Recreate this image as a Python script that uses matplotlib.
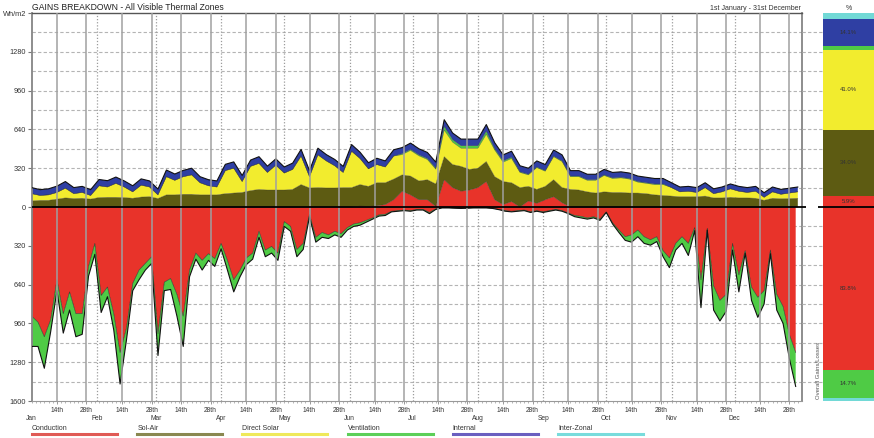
import numpy as np
import matplotlib.pyplot as plt
from matplotlib.lines import Line2D

plt.rcParams['font.family'] = ['Liberation Sans', 'DejaVu Sans']

W, H = 874.0, 438.0

# sample positions, days from 1st January
gain_days = np.arange(0, 365, 4)
loss_days = np.arange(0, 364, 3)

# gains, Wh/m2 (stacked from the zero line upwards)
cond_gain = [0, 0, 0, 0, 0, 0, 0, 0, 0, 0,
             0, 0, 0, 0, 0, 0, 0, 0, 0, 0,
             0, 0, 0, 0, 0, 0, 0, 0, 0, 0,
             0, 0, 0, 0, 0, 0, 0, 0, 0, 8,
             5, 10, 20, 60, 130, 100, 60, 60, 5, 225,
             160, 130, 140, 160, 210, 60, 20, 45, 0, 50,
             30, 60, 85, 35, 0, 0, 0, 0, 0, 0,
             0, 0, 0, 0, 0, 0, 0, 0, 0, 0,
             0, 0, 0, 0, 0, 0, 0, 0, 0, 0,
             0, 0]
solair_gain = [50, 55, 55, 65, 75, 70, 72, 65, 78, 80,
               80, 78, 72, 82, 85, 70, 100, 100, 105, 105,
               100, 100, 100, 110, 115, 120, 135, 145, 140, 140,
               140, 145, 185, 157, 160, 157, 157, 160, 160, 177,
               165, 190, 180, 170, 135, 155, 155, 165, 185, 190,
               190, 205, 170, 160, 165, 190, 190, 155, 160, 120,
               115, 110, 140, 125, 145, 140, 125, 115, 125, 120,
               120, 115, 115, 110, 100, 95, 90, 85, 85, 85,
               90, 75, 75, 80, 75, 75, 72, 55, 72, 68,
               70, 72]
solar_gain = [60, 40, 45, 55, 80, 40, 48, 30, 97, 85,
              115, 87, 53, 98, 80, 30, 150, 120, 145, 160,
              100, 75, 65, 190, 205, 90, 200, 215, 145, 205,
              140, 165, 235, 93, 270, 223, 183, 125, 300, 215,
              145, 150, 130, 190, 167, 212, 207, 167, 122, 220,
              185, 150, 175, 165, 225, 220, 160, 200, 125, 95,
              180, 125, 190, 215, 105, 110, 95, 105, 135, 115,
              120, 115, 90, 85, 85, 90, 70, 40, 45, 35,
              70, 35, 50, 70, 55, 45, 58, 25, 53, 37,
              45, 53]
vent_gain = [0, 0, 0, 0, 0, 0, 0, 0, 0, 0,
             0, 0, 0, 0, 0, 0, 0, 0, 0, 0,
             0, 0, 0, 0, 0, 0, 0, 0, 0, 0,
             0, 0, 0, 0, 0, 0, 0, 0, 0, 0,
             0, 0, 0, 0, 8, 8, 8, 8, 8, 30,
             20, 20, 20, 20, 25, 10, 10, 10, 5, 5,
             5, 5, 5, 5, 5, 5, 5, 5, 5, 5,
             5, 5, 5, 5, 5, 5, 0, 0, 0, 0,
             0, 0, 0, 0, 0, 0, 0, 0, 0, 0,
             0, 0]
internal_gain = [50, 48, 50, 52, 55, 50, 50, 48, 52, 52,
                 52, 50, 50, 52, 50, 48, 55, 52, 52, 55,
                 50, 50, 50, 52, 52, 50, 52, 55, 52, 52,
                 50, 52, 55, 50, 55, 52, 52, 50, 55, 52,
                 50, 52, 50, 52, 50, 52, 50, 50, 50, 55,
                 55, 55, 55, 55, 55, 50, 50, 50, 50, 50,
                 50, 50, 50, 50, 45, 45, 45, 45, 45, 45,
                 45, 45, 45, 45, 45, 45, 40, 40, 40, 40,
                 40, 40, 40, 40, 40, 40, 40, 38, 40, 40,
                 40, 40]

# losses, Wh/m2 (drawn below the zero line)
cond_loss = [900, 950, 1070, 930, 600, 880, 700, 880, 880, 490,
             300, 730, 660, 880, 1200, 1000, 630, 520, 465, 410,
             1045, 620, 590, 720, 900, 520, 380, 440, 385, 425,
             300, 440, 600, 520, 420, 380, 200, 355, 325, 380,
             120, 160, 350, 300, 60, 250, 210, 230, 200, 220,
             170, 140, 130, 110, 90, 65, 60, 35, 30, 25,
             30, 20, 20, 45, 15, 5, 5, 8, 10, 8,
             5, 5, 5, 10, 20, 30, 35, 30, 25, 40,
             30, 40, 30, 20, 30, 50, 70, 77, 90, 80,
             100, 40, 130, 190, 245, 230, 190, 245, 270, 245,
             360, 420, 300, 245, 300, 170, 600, 175, 650, 770,
             720, 300, 560, 360, 660, 745, 690, 355, 720, 820,
             1050, 1200]
vent_loss = [250, 200, 260, 100, 90, 160, 150, 190, 170, 80,
             90, 140, 80, 135, 260, 100, 60, 80, 55, 55,
             180, 70, 90, 180, 250, 55, 50, 80, 55, 65,
             45, 80, 100, 55, 55, 50, 50, 55, 55, 60,
             40, 40, 60, 50, 20, 40, 40, 30, 30, 30,
             20, 20, 20, 15, 10, 10, 10, 5, 5, 5,
             5, 5, 5, 10, 5, 3, 3, 2, 2, 2,
             3, 3, 3, 2, 2, 5, 5, 5, 5, 5,
             5, 5, 5, 5, 5, 5, 10, 13, 10, 10,
             10, 5, 10, 20, 30, 60, 55, 55, 45, 40,
             50, 80, 55, 55, 100, 25, 230, 15, 200, 170,
             140, 55, 140, 20, 110, 165, 110, 30, 130, 140,
             200, 280]

# overall split, percent
gain_names = ['Conduction', 'Sol-Air', 'Direct Solar', 'Ventilation', 'Internal', 'Inter-Zonal']
gain_pct = [5.9, 34.0, 41.0, 2.0, 14.1, 3.0]
loss_names = ['Conduction', 'Ventilation', 'Inter-Zonal']
loss_pct = [83.8, 14.7, 1.5]

months = ['Jan', 'Feb', 'Mar', 'Apr', 'May', 'Jun', 'Jul', 'Aug', 'Sep', 'Oct', 'Nov', 'Dec']
month_start = [0, 31, 59, 90, 120, 151, 181, 212, 243, 273, 304, 334]

legend_names = ['Conduction', 'Sol-Air', 'Direct Solar', 'Ventilation', 'Internal', 'Inter-Zonal']

fill = {'Conduction': '#e8332a', 'Sol-Air': '#5d5b12', 'Direct Solar': '#f2ec2e',
        'Ventilation': '#4fcb45', 'Internal': '#2f3fa3', 'Inter-Zonal': '#72d9d6'}
legend_col = {'Conduction': '#e05a55', 'Sol-Air': '#8a8850', 'Direct Solar': '#efe95a',
              'Ventilation': '#5ccf58', 'Internal': '#6a5fc0', 'Inter-Zonal': '#78dcdc'}

fig = plt.figure(figsize=(W / 100, H / 100), dpi=100)
x0, x1, ytop, ybot = 31.7, 802.0, 13.0, 401.0
ax = fig.add_axes([x0 / W, 1 - ybot / H, (x1 - x0) / W, (ybot - ytop) / H])
axp = fig.add_axes([x1 / W, 1 - ybot / H, (W - x1) / W, (ybot - ytop) / H])

# --- time series ---
gains = [np.array(a, float) for a in (cond_gain, solair_gain, solar_gain, vent_gain, internal_gain)]
ax.stackplot(gain_days, *gains,
             colors=[fill['Conduction'], fill['Sol-Air'], fill['Direct Solar'],
                     fill['Ventilation'], fill['Internal']], lw=0, zorder=2)
cl = np.array(cond_loss, float)
vl = np.array(vent_loss, float)
ax.stackplot(loss_days, -cl, -vl, colors=[fill['Conduction'], fill['Ventilation']], lw=0, zorder=2)

cum = np.cumsum(gains, axis=0)
for k in range(len(cum) - 1):
    ax.plot(gain_days, cum[k], color='#222222', lw=0.35, alpha=0.6, zorder=2.5)
ax.plot(gain_days, cum[-1], color='#111111', lw=0.8, zorder=2.6)
ax.plot(loss_days, -cl, color='#222222', lw=0.45, alpha=0.8, zorder=2.5)
ax.plot(loss_days, -(cl + vl), color='#111111', lw=0.8, zorder=2.6)

# grid
for v in np.arange(-1440, 1600, 160):
    if v != 0:
        ax.axhline(v, color='#b4b4b4', lw=0.8, ls=(0, (3, 2)), zorder=0)
for ms in month_start[1:]:
    ax.axvline(ms, color='#9c9c9c', lw=0.9, ls=(0, (1, 1.5)), zorder=0.5)
solid = []
for ms in month_start:
    solid += [ms + 12, ms + 26]
for s in solid:
    ax.axvline(s, color='#a0a0a0', lw=1.1, zorder=3)
ax.axhline(0, color='black', lw=1.3, zorder=4)

ax.set_xlim(0, 366)
ax.set_ylim(-1600, 1600)
yt = np.arange(-1600, 1601, 320)
ax.set_yticks(yt)
ax.set_yticklabels(['Wh/m2' if v == 1600 else str(abs(v)) for v in yt])
ax.set_xticks(solid)
ax.set_xticklabels(['14th', '28th'] * 12)
ax.set_xticks(np.arange(0, 366, 2), minor=True)
ax.tick_params(axis='y', length=3, width=0.8, color='#777777', labelsize=5.3, pad=1, labelcolor='#333333')
ax.tick_params(axis='x', which='major', length=2, width=0.6, color='#888888', labelsize=4.8, pad=2,
               labelcolor='#333333')
ax.tick_params(axis='x', which='minor', length=1.5, width=0.5, color='#999999')
for ms, name in zip(month_start, months):
    ax.text(ms, -0.044, name, transform=ax.get_xaxis_transform(), ha='center', va='center',
            fontsize=4.8, color='#333333')

for side in ['left', 'right']:
    ax.spines[side].set_color('#858585')
    ax.spines[side].set_linewidth(1.3)
ax.spines['top'].set_color('#555555')
ax.spines['top'].set_linewidth(1.0)
ax.spines['bottom'].set_color('#999999')
ax.spines['bottom'].set_linewidth(0.8)

# --- overall percentage bar ---
axp.set_xlim(x1, W)
axp.set_ylim(-100, 100)
axp.axis('off')
for v in np.arange(-90, 100, 10):
    if v != 0:
        axp.axhline(v, color='#b4b4b4', lw=0.8, ls=(0, (3, 2)), zorder=0)
axp.hlines(0, x1, 806, color='black', lw=1.3, zorder=4)
axp.hlines(0, 818, W, color='black', lw=1.3, zorder=4)
bx, bw = 848.5, 51
base = 0.0
for name, p in zip(gain_names, gain_pct):
    axp.bar(bx, p, bottom=base, width=bw, color=fill[name], lw=0, zorder=2)
    if p >= 5:
        axp.text(bx, base + p / 2, '{0:.1f}%'.format(p), ha='center', va='center',
                 fontsize=4.3, color='#333333', zorder=5)
    base += p
base = 0.0
for name, p in zip(loss_names, loss_pct):
    axp.bar(bx, -p, bottom=base, width=bw, color=fill[name], lw=0, zorder=2)
    if p >= 5:
        axp.text(bx, base - p / 2, '{0:.1f}%'.format(p), ha='center', va='center',
                 fontsize=4.3, color='#333333', zorder=5)
    base -= p

# --- texts ---
fig.text(32 / W, 1 - 7 / H, 'GAINS BREAKDOWN - All Visible Thermal Zones', ha='left', va='center',
         fontsize=6.2, color='#222222')
fig.text(801 / W, 1 - 8 / H, '1st January - 31st December', ha='right', va='center',
         fontsize=5.0, color='#333333')
fig.text(849 / W, 1 - 8 / H, '%', ha='center', va='center', fontsize=5.0, color='#333333')
fig.text(819 / W, 1 - 399 / H, 'Overall Gains/Losses', rotation=90, ha='center', va='bottom',
         fontsize=4.3, color='#555555')

# legend along the bottom
for i, name in enumerate(legend_names):
    lx = 32 + i * 105.2
    fig.text(lx / W, 1 - 428 / H, name, ha='left', va='center', fontsize=5.0, color='#333333')
    fig.add_artist(Line2D([lx / W, (lx + 85) / W], [1 - 434 / H] * 2, color=legend_col[name], lw=2.2))

fig.savefig('out.png', dpi=100)
